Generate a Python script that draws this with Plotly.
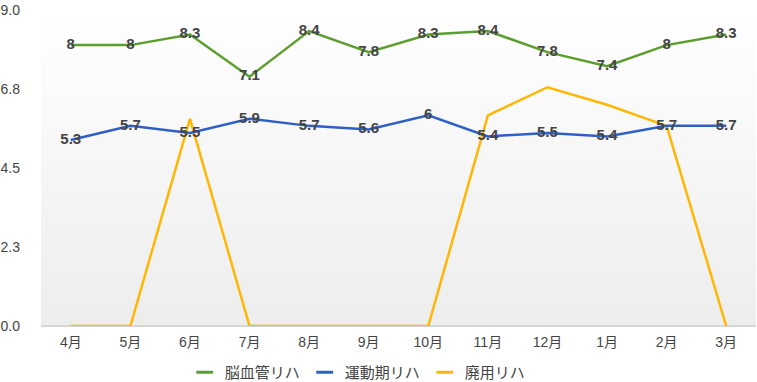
import plotly.graph_objects as go
import urllib.parse

months = ["4月", "5月", "6月", "7月", "8月", "9月", "10月", "11月", "12月", "1月", "2月", "3月"]
noukekkan = [8, 8, 8.3, 7.1, 8.4, 7.8, 8.3, 8.4, 7.8, 7.4, 8, 8.3]
undouki = [5.3, 5.7, 5.5, 5.9, 5.7, 5.6, 6, 5.4, 5.5, 5.4, 5.7, 5.7]
haiyou = [0, 0, 5.9, 0, 0, 0, 0, 6.0, 6.8, 6.3, 5.7, 0]
ytick_vals = [0, 2.25, 4.5, 6.75, 9]
ytick_text = ["0.0", "2.3", "4.5", "6.8", "9.0"]
series_names = ["脳血管リハ", "運動期リハ", "廃用リハ"]
series_colors = ["#5c9e2e", "#2e5fc6", "#ffb703"]

FONT = "'Liberation Sans', Arial, 'Noto Sans CJK JP', sans-serif"
LBL = dict(family=FONT, size=15, color="#444444", weight="bold")

fig = go.Figure()
fig.add_trace(go.Scatter(x=months, y=haiyou, name=series_names[2], mode="lines",
                         line=dict(color=series_colors[2], width=2.5), showlegend=False))
fig.add_trace(go.Scatter(x=months, y=noukekkan, name=series_names[0], mode="lines+text",
                         text=[str(v) for v in noukekkan], textposition="middle center",
                         textfont=LBL, line=dict(color=series_colors[0], width=2.5),
                         showlegend=False, cliponaxis=False))
fig.add_trace(go.Scatter(x=months, y=undouki, name=series_names[1], mode="lines+text",
                         text=[str(v) for v in undouki], textposition="middle center",
                         textfont=LBL, line=dict(color=series_colors[1], width=2.5),
                         showlegend=False, cliponaxis=False))
# legend entries (short line glyphs)
for nm, col in zip(series_names, series_colors):
    fig.add_trace(go.Scatter(x=[None], y=[None], name=nm, mode="markers",
                             marker=dict(symbol="line-ew", size=12,
                                         line=dict(width=3, color=col)),
                             showlegend=True))

svg = ('<svg xmlns="http://www.w3.org/2000/svg" width="10" height="100" preserveAspectRatio="none">'
       '<defs><linearGradient id="g" x1="0" y1="0" x2="0" y2="1">'
       '<stop offset="0" stop-color="#ffffff"/><stop offset="1" stop-color="#ededed"/>'
       '</linearGradient></defs><rect width="10" height="100" fill="url(#g)"/></svg>')
src = "data:image/svg+xml;charset=utf-8," + urllib.parse.quote(svg)

fig.update_layout(
    width=757, height=382,
    margin=dict(l=41, r=1, t=10, b=56, autoexpand=False),
    paper_bgcolor="white", plot_bgcolor="rgba(0,0,0,0)",
    font=dict(family=FONT, size=14, color="#444444"),
    images=[dict(source=src, xref="paper", yref="paper", x=0, y=1, sizex=1, sizey=1,
                 xanchor="left", yanchor="top", sizing="stretch", layer="below")],
    showlegend=True,
    legend=dict(orientation="h", x=0.201, xanchor="left", y=-0.095, yanchor="top",
                font=dict(size=15, color="#444444"), entrywidth=75, entrywidthmode="pixels",
                traceorder="normal"),
    xaxis=dict(range=[-0.5, len(months) - 0.5], showgrid=False, zeroline=False,
               showline=False, ticks="", automargin=False,
               tickfont=dict(size=14, color="#444444"), ticklabelstandoff=6, fixedrange=True),
    yaxis=dict(range=[0, 9], tickvals=ytick_vals, ticktext=ytick_text, showgrid=False,
               automargin=False,
               zeroline=True, zerolinecolor="#d6d6d6", zerolinewidth=1.5, showline=False,
               tickfont=dict(size=14, color="#444444"), ticklabelstandoff=20, fixedrange=True),
)

fig.write_html("out.html", config={"displayModeBar": False, "staticPlot": True},
               post_script="document.body.style.margin='0';document.body.style.overflow='hidden';")
